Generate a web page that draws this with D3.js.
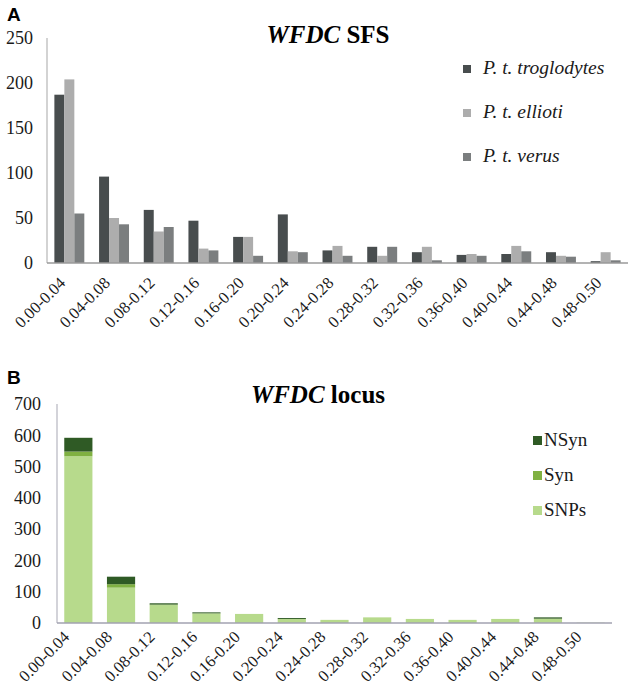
<!DOCTYPE html>
<html>
<head>
<meta charset="utf-8">
<script src="https://cdn.jsdelivr.net/npm/d3@7"></script>
<style>
  body { margin: 0; background: #fff; }
  text { font-family: "Liberation Serif", "Times New Roman", serif; }
</style>
</head>
<body>
<script>
// frequency bins
var cats = ["0.00-0.04","0.04-0.08","0.08-0.12","0.12-0.16","0.16-0.20","0.20-0.24","0.24-0.28",
            "0.28-0.32","0.32-0.36","0.36-0.40","0.40-0.44","0.44-0.48","0.48-0.50"];

// panel A - SFS per subspecies
var troglodytes = [187, 96, 59, 47, 29, 54, 14, 18, 12, 9, 10, 12, 2];
var ellioti     = [204, 50, 35, 16, 29, 13, 19, 8, 18, 10, 19, 8, 12];
var verus       = [55, 43, 40, 14, 8, 12, 8, 18, 3, 8, 13, 7, 3];
var seriesA = ["P. t. troglodytes", "P. t. ellioti", "P. t. verus"];
var ticksA = [0, 50, 100, 150, 200, 250];

// panel B - stacked locus counts
var snps = [533, 113, 57, 30, 29, 12, 10, 18, 13, 10, 13, 13, 1];
var syn  = [15, 11, 2, 1, 0, 1, 0, 0, 0, 0, 0, 1, 0];
var nsyn = [44, 24, 4, 3, 0, 3, 0, 0, 0, 0, 0, 4, 0];
var seriesB = ["SNPs", "Syn", "NSyn"];
var ticksB = [0, 100, 200, 300, 400, 500, 600, 700];

var svg = d3.select("body").append("svg")
  .attr("width", 633).attr("height", 698);

// ---------- panel A ----------
var gA = svg.append("g");
var colA = d3.scaleOrdinal().domain(seriesA).range(["#484d4e", "#adadad", "#7b7e7f"]);
var xA = d3.scaleBand().domain(cats).range([47, 628]).paddingInner(0.33).paddingOuter(0.165);
var xA1 = d3.scaleBand().domain(seriesA).range([0, xA.bandwidth()]);
var yA = d3.scaleLinear().domain([0, 250]).range([263, 38]);

var rowsA = cats.map(function(c, i) {
  return {cat: c, vals: [troglodytes[i], ellioti[i], verus[i]]};
});

gA.append("line").attr("x1", 47).attr("x2", 47).attr("y1", yA(250)).attr("y2", yA(0))
  .attr("stroke", "#c4c4c4").attr("stroke-width", 1.5);

gA.selectAll("text.ytick").data(ticksA).enter().append("text")
  .attr("class", "ytick")
  .attr("x", 33).attr("y", function(d) { return yA(d); })
  .attr("dy", "0.35em").attr("text-anchor", "end")
  .attr("font-size", 18).attr("fill", "#1a1a1a")
  .text(function(d) { return d; });

gA.selectAll("g.grp").data(rowsA).enter().append("g")
  .attr("class", "grp")
  .attr("transform", function(d) { return "translate(" + xA(d.cat) + ",0)"; })
  .selectAll("rect").data(function(d) { return d.vals; }).enter().append("rect")
  .attr("x", function(d, i) { return xA1(seriesA[i]); })
  .attr("width", xA1.bandwidth())
  .attr("y", function(d) { return yA(d); })
  .attr("height", function(d) { return yA(0) - yA(d); })
  .attr("fill", function(d, i) { return colA(seriesA[i]); });

gA.append("line").attr("x1", 47).attr("x2", 628).attr("y1", yA(0)).attr("y2", yA(0))
  .attr("stroke", "#9a9a9a").attr("stroke-width", 1.5);

gA.selectAll("text.xtick").data(cats).enter().append("text")
  .attr("class", "xtick")
  .attr("font-size", 16.5).attr("fill", "#1a1a1a").attr("text-anchor", "end")
  .attr("transform", function(d) {
    return "translate(" + (xA(d) + xA.bandwidth() / 2 - 3) + "," + (yA(0) + 21) + ") rotate(-45)";
  })
  .text(function(d) { return d; });

gA.append("text").attr("x", 7).attr("y", 21)
  .style("font-family", "'Liberation Sans', Arial, sans-serif")
  .attr("font-size", 19).attr("font-weight", "bold").text("A");

var tA = gA.append("text").attr("x", 328).attr("y", 43).attr("text-anchor", "middle")
  .attr("font-size", 25).attr("font-weight", "bold");
tA.append("tspan").attr("font-style", "italic").text("WFDC");
tA.append("tspan").text(" SFS");

var legA = gA.selectAll("g.leg").data(seriesA).enter().append("g")
  .attr("class", "leg")
  .attr("transform", function(d, i) { return "translate(463," + (74 + i * 44) + ")"; });
legA.append("rect").attr("x", 0).attr("y", -9).attr("width", 8).attr("height", 8)
  .attr("fill", function(d) { return colA(d); });
legA.append("text").attr("x", 20).attr("y", 0)
  .attr("font-size", 19.5).attr("font-style", "italic").attr("fill", "#1a1a1a")
  .text(function(d) { return d; });

// ---------- panel B ----------
var gB = svg.append("g");
var colB = d3.scaleOrdinal().domain(seriesB).range(["#b7da8c", "#80b142", "#2f5a25"]);
var xB = d3.scaleBand().domain(cats).range([57, 612]).paddingInner(0.34).paddingOuter(0.17);
var yB = d3.scaleLinear().domain([0, 700]).range([623, 404]);

var rowsB = cats.map(function(c, i) {
  return {cat: c, SNPs: snps[i], Syn: syn[i], NSyn: nsyn[i]};
});
var stack = d3.stack().keys(seriesB)(rowsB);

gB.append("line").attr("x1", 57).attr("x2", 57).attr("y1", yB(700)).attr("y2", yB(0))
  .attr("stroke", "#c4c4cc").attr("stroke-width", 1.5);

gB.selectAll("text.ytick").data(ticksB).enter().append("text")
  .attr("class", "ytick")
  .attr("x", 41).attr("y", function(d) { return yB(d); })
  .attr("dy", "0.35em").attr("text-anchor", "end")
  .attr("font-size", 18).attr("fill", "#1a1a1a")
  .text(function(d) { return d; });

gB.selectAll("g.layer").data(stack).enter().append("g")
  .attr("class", "layer")
  .attr("fill", function(d) { return colB(d.key); })
  .selectAll("rect").data(function(d) { return d; }).enter().append("rect")
  .attr("x", function(d) { return xB(d.data.cat); })
  .attr("width", xB.bandwidth())
  .attr("y", function(d) { return yB(d[1]); })
  .attr("height", function(d) { return yB(d[0]) - yB(d[1]); });

gB.append("line").attr("x1", 57).attr("x2", 612).attr("y1", yB(0)).attr("y2", yB(0))
  .attr("stroke", "#a2a2b0").attr("stroke-width", 1.5);

gB.selectAll("text.xtick").data(cats).enter().append("text")
  .attr("class", "xtick")
  .attr("font-size", 16.5).attr("fill", "#1a1a1a").attr("text-anchor", "end")
  .attr("transform", function(d) {
    return "translate(" + (xB(d) + xB.bandwidth() / 2 - 8) + "," + (yB(0) + 15) + ") rotate(-45)";
  })
  .text(function(d) { return d; });

gB.append("text").attr("x", 7).attr("y", 384)
  .style("font-family", "'Liberation Sans', Arial, sans-serif")
  .attr("font-size", 19).attr("font-weight", "bold").text("B");

var tB = gB.append("text").attr("x", 318).attr("y", 403).attr("text-anchor", "middle")
  .attr("font-size", 25).attr("font-weight", "bold");
tB.append("tspan").attr("font-style", "italic").text("WFDC");
tB.append("tspan").text(" locus");

var legB = gB.selectAll("g.leg").data(seriesB.slice().reverse()).enter().append("g")
  .attr("class", "leg")
  .attr("transform", function(d, i) { return "translate(533," + (446 + i * 35) + ")"; });
legB.append("rect").attr("x", 0).attr("y", -10).attr("width", 9).attr("height", 9)
  .attr("fill", function(d) { return colB(d); });
legB.append("text").attr("x", 11).attr("y", 0)
  .attr("font-size", 19).attr("fill", "#1a1a1a")
  .text(function(d) { return d; });
</script>
</body>
</html>
